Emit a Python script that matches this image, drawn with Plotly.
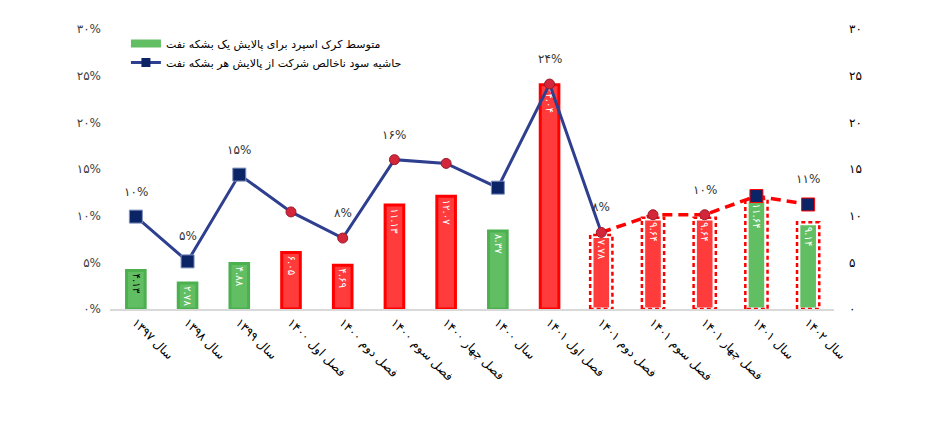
import plotly.graph_objects as go

categories = ["سال 1397", "سال 1398", "سال 1399", "فصل اول 1400", "فصل دوم 1400",
              "فصل سوم 1400", "فصل چهار 1400", "سال 1400", "فصل اول 1401",
              "فصل دوم 1401", "فصل سوم 1401", "فصل چهار 1401", "سال 1401", "سال 1402"]
crack_spread = [4.13, 2.78, 4.88, 6.05, 4.69, 11.13, 12.07, 8.37, 24.04, 7.78, 9.64, 9.64, 11.64, 9.14]
gross_margin = [9.9, 5.1, 14.4, 10.4, 7.6, 16.0, 15.6, 13.0, 24.1, 8.2, 10.1, 10.1, 12.1, 11.2]
margin_labels = ["10%", "5%", "15%", "", "8%", "16%", "", "", "24%", "8%", "", "10%", "", "11%"]
is_forecast = [False] * 9 + [True] * 5
y_ticks = [0, 5, 10, 15, 20, 25, 30]

bar_name = "متوسط کرک اسپرد برای پالایش یک بشکه نفت"
line_name = "حاشیه سود ناخالص شرکت از پالایش هر بشکه نفت"

FA = str.maketrans("0123456789", "۰۱۲۳۴۵۶۷۸۹")
def fa(s):
    return str(s).translate(FA)

n = len(categories)
xs = list(range(n))
is_year = [c.startswith("سال") for c in categories]

GREEN_C, GREEN_E = "#62BE62", "#4CAF50"
RED_C, RED_E = "#FF3B3B", "#FF0000"
NAVY = "#2E3F8F"
SQ = "#0A2466"
CIRC = "#D3263A"

bar_fill = [GREEN_C if y else RED_C for y in is_year]
bar_edge = ["#FFFFFF" if f else (GREEN_E if y else RED_E) for y, f in zip(is_year, is_forecast)]
bar_text = [fa(f"{v:.2f}") for v in crack_spread]
bar_text_col = ["#000000"] + ["#FFFFFF"] * (n - 1)

fig = go.Figure()
BW = 0.36
fig.add_trace(go.Bar(
    x=xs, y=crack_spread, width=BW, name=bar_name, showlegend=False,
    marker=dict(color=bar_fill, line=dict(color=bar_edge, width=3)),
    text=bar_text, textposition="inside", insidetextanchor="end", textangle=90,
    textfont=dict(size=11, color=bar_text_col, family="DejaVu Sans"),
    yaxis="y", hoverinfo="skip",
))

# dashed outlines for forecast bars
ox, oy = [], []
h = BW / 2 + 0.035
for i, (v, f) in enumerate(zip(crack_spread, is_forecast)):
    if f:
        ox += [i - h, i - h, i + h, i + h, i - h, None]
        oy += [0, v + 0.15, v + 0.15, 0, 0, None]
fig.add_trace(go.Scatter(x=ox, y=oy, mode="lines", showlegend=False, yaxis="y",
                         line=dict(color="#FF0000", width=2.5, dash="4px,3px"), hoverinfo="skip"))

symbols = ["square" if y else "circle" for y in is_year]
msize = [13 if y else 10 for y in is_year]
mcolor = [SQ if y else CIRC for y in is_year]
mline = ["#FF0000" if f and y else ("#8090C0" if y else "#9A1B2B") for y, f in zip(is_year, is_forecast)]

last_actual = max(i for i, f in enumerate(is_forecast) if not f) + 1
fig.add_trace(go.Scatter(
    x=xs[:last_actual + 1], y=gross_margin[:last_actual + 1], mode="lines",
    line=dict(color=NAVY, width=3), showlegend=False, yaxis="y2", hoverinfo="skip"))
fig.add_trace(go.Scatter(
    x=xs[last_actual:], y=gross_margin[last_actual:], mode="lines",
    line=dict(color="#FF0000", width=3.5, dash="10px,6px"), showlegend=False, yaxis="y2", hoverinfo="skip"))
fig.add_trace(go.Scatter(
    x=xs, y=gross_margin, mode="markers", showlegend=False, yaxis="y2",
    marker=dict(symbol=symbols, size=msize, color=mcolor, opacity=1,
                line=dict(color=mline, width=1)),
    hoverinfo="skip"))

# legend entries
fig.add_trace(go.Scatter(x=[None], y=[None], mode="lines", name=bar_name, yaxis="y2",
                         line=dict(color=GREEN_C, width=8)))
fig.add_trace(go.Scatter(x=[None], y=[None], mode="lines+markers", name=line_name, yaxis="y2",
                         line=dict(color=NAVY, width=3),
                         marker=dict(symbol="square", size=9, color=SQ)))

for i, (v, t) in enumerate(zip(gross_margin, margin_labels)):
    if t:
        fig.add_annotation(x=i, y=v, xref="x", yref="y2", text=fa(t), showarrow=False,
                           yshift=25, font=dict(size=12, color="#333333", family="DejaVu Sans"))

fig.update_layout(
    width=934, height=425, margin=dict(l=110, r=100, t=29, b=116),
    paper_bgcolor="white", plot_bgcolor="white",
    font=dict(family="DejaVu Sans", size=11, color="#000"),
    showlegend=True,
    legend=dict(x=0.022, y=1.0, xanchor="left", yanchor="top", bgcolor="rgba(0,0,0,0)",
                font=dict(size=11, color="#000"), tracegroupgap=0, itemwidth=30,
                itemsizing="trace"),
    uniformtext=dict(minsize=10, mode="show"),
    xaxis=dict(range=[-0.5, n - 0.5], tickvals=xs, ticktext=[fa(c) for c in categories],
               tickangle=45, showline=True, linecolor="#D9D9D9", linewidth=1.5, showgrid=False,
               zeroline=False, ticks="", tickfont=dict(size=12, color="#000")),
    yaxis=dict(range=[0, 30], side="right", tickvals=y_ticks, ticktext=[fa(t) for t in y_ticks],
               showgrid=False, zeroline=False, ticks="", ticklabelstandoff=14,
               tickfont=dict(size=12, color="#000")),
    yaxis2=dict(range=[0, 30], side="left", overlaying="y", tickvals=y_ticks,
                ticktext=[fa(t) + "%" for t in y_ticks], showgrid=False, zeroline=False,
                ticks="", ticklabelstandoff=8, tickfont=dict(size=12, color="#404040")),
)

fig.write_html("out.html")
